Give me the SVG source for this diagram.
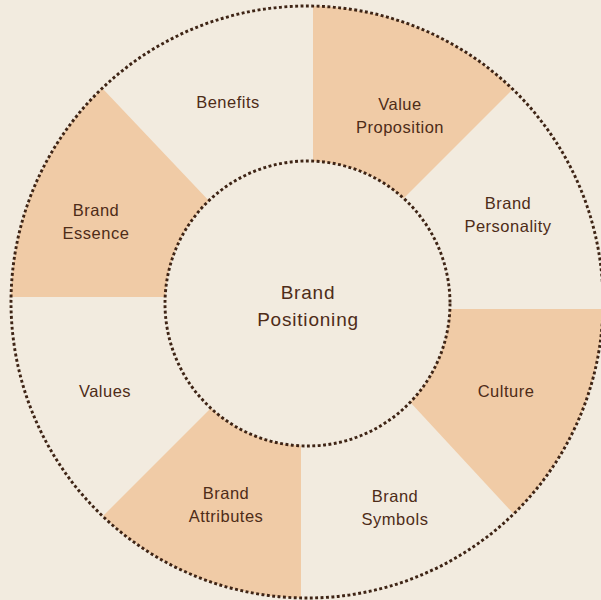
<svg xmlns="http://www.w3.org/2000/svg" width="601" height="600" viewBox="0 0 601 600">
<style>
.bg{fill:#F2EBDF}
.seg{fill:#F0CBA6}
.ring{fill:none;stroke:#3E2415;stroke-width:2.9;stroke-dasharray:2.9 2.5}
.lbl{font-family:"Liberation Sans",Arial,sans-serif;font-size:16.5px;fill:#4E2C18;text-anchor:middle;letter-spacing:0.5px}
.big{font-size:19px;letter-spacing:0.8px}
</style>
<defs>
<clipPath id="outer"><circle cx="307" cy="302" r="296"/></clipPath>
</defs>
<rect class="bg" x="0" y="0" width="601" height="600"/>
<g id="segments" clip-path="url(#outer)">
<polygon id="seg-value" class="seg" points="313,289 313,-100 702,-100"/>
<polygon id="seg-culture" class="seg" points="324,309 700,309 700,700 686,700"/>
<polygon id="seg-attributes" class="seg" points="301,318 301,700 -81,700"/>
<polygon id="seg-essence" class="seg" points="300,297 -76,-100 -100,-100 -100,297"/>
</g>
<g id="connectors">
<circle class="ring" cx="307" cy="302" r="296"/>
</g>
<g id="center">
<circle class="bg" cx="307.5" cy="303.5" r="142.5"/>
<circle class="ring" cx="307.5" cy="303.5" r="142.5"/>
<text class="lbl big" x="308" y="299">Brand</text>
<text class="lbl big" x="308" y="326">Positioning</text>
</g>
<g id="benefits"><text class="lbl" x="228" y="108">Benefits</text></g>
<g id="value-proposition"><text class="lbl" x="400" y="110">Value</text><text class="lbl" x="400" y="133">Proposition</text></g>
<g id="brand-personality"><text class="lbl" x="508" y="209">Brand</text><text class="lbl" x="508" y="232">Personality</text></g>
<g id="culture"><text class="lbl" x="506" y="397">Culture</text></g>
<g id="brand-symbols"><text class="lbl" x="395" y="502">Brand</text><text class="lbl" x="395" y="525">Symbols</text></g>
<g id="brand-attributes"><text class="lbl" x="226" y="499">Brand</text><text class="lbl" x="226" y="522">Attributes</text></g>
<g id="values"><text class="lbl" x="105" y="397">Values</text></g>
<g id="brand-essence"><text class="lbl" x="96" y="216">Brand</text><text class="lbl" x="96" y="239">Essence</text></g>
</svg>
